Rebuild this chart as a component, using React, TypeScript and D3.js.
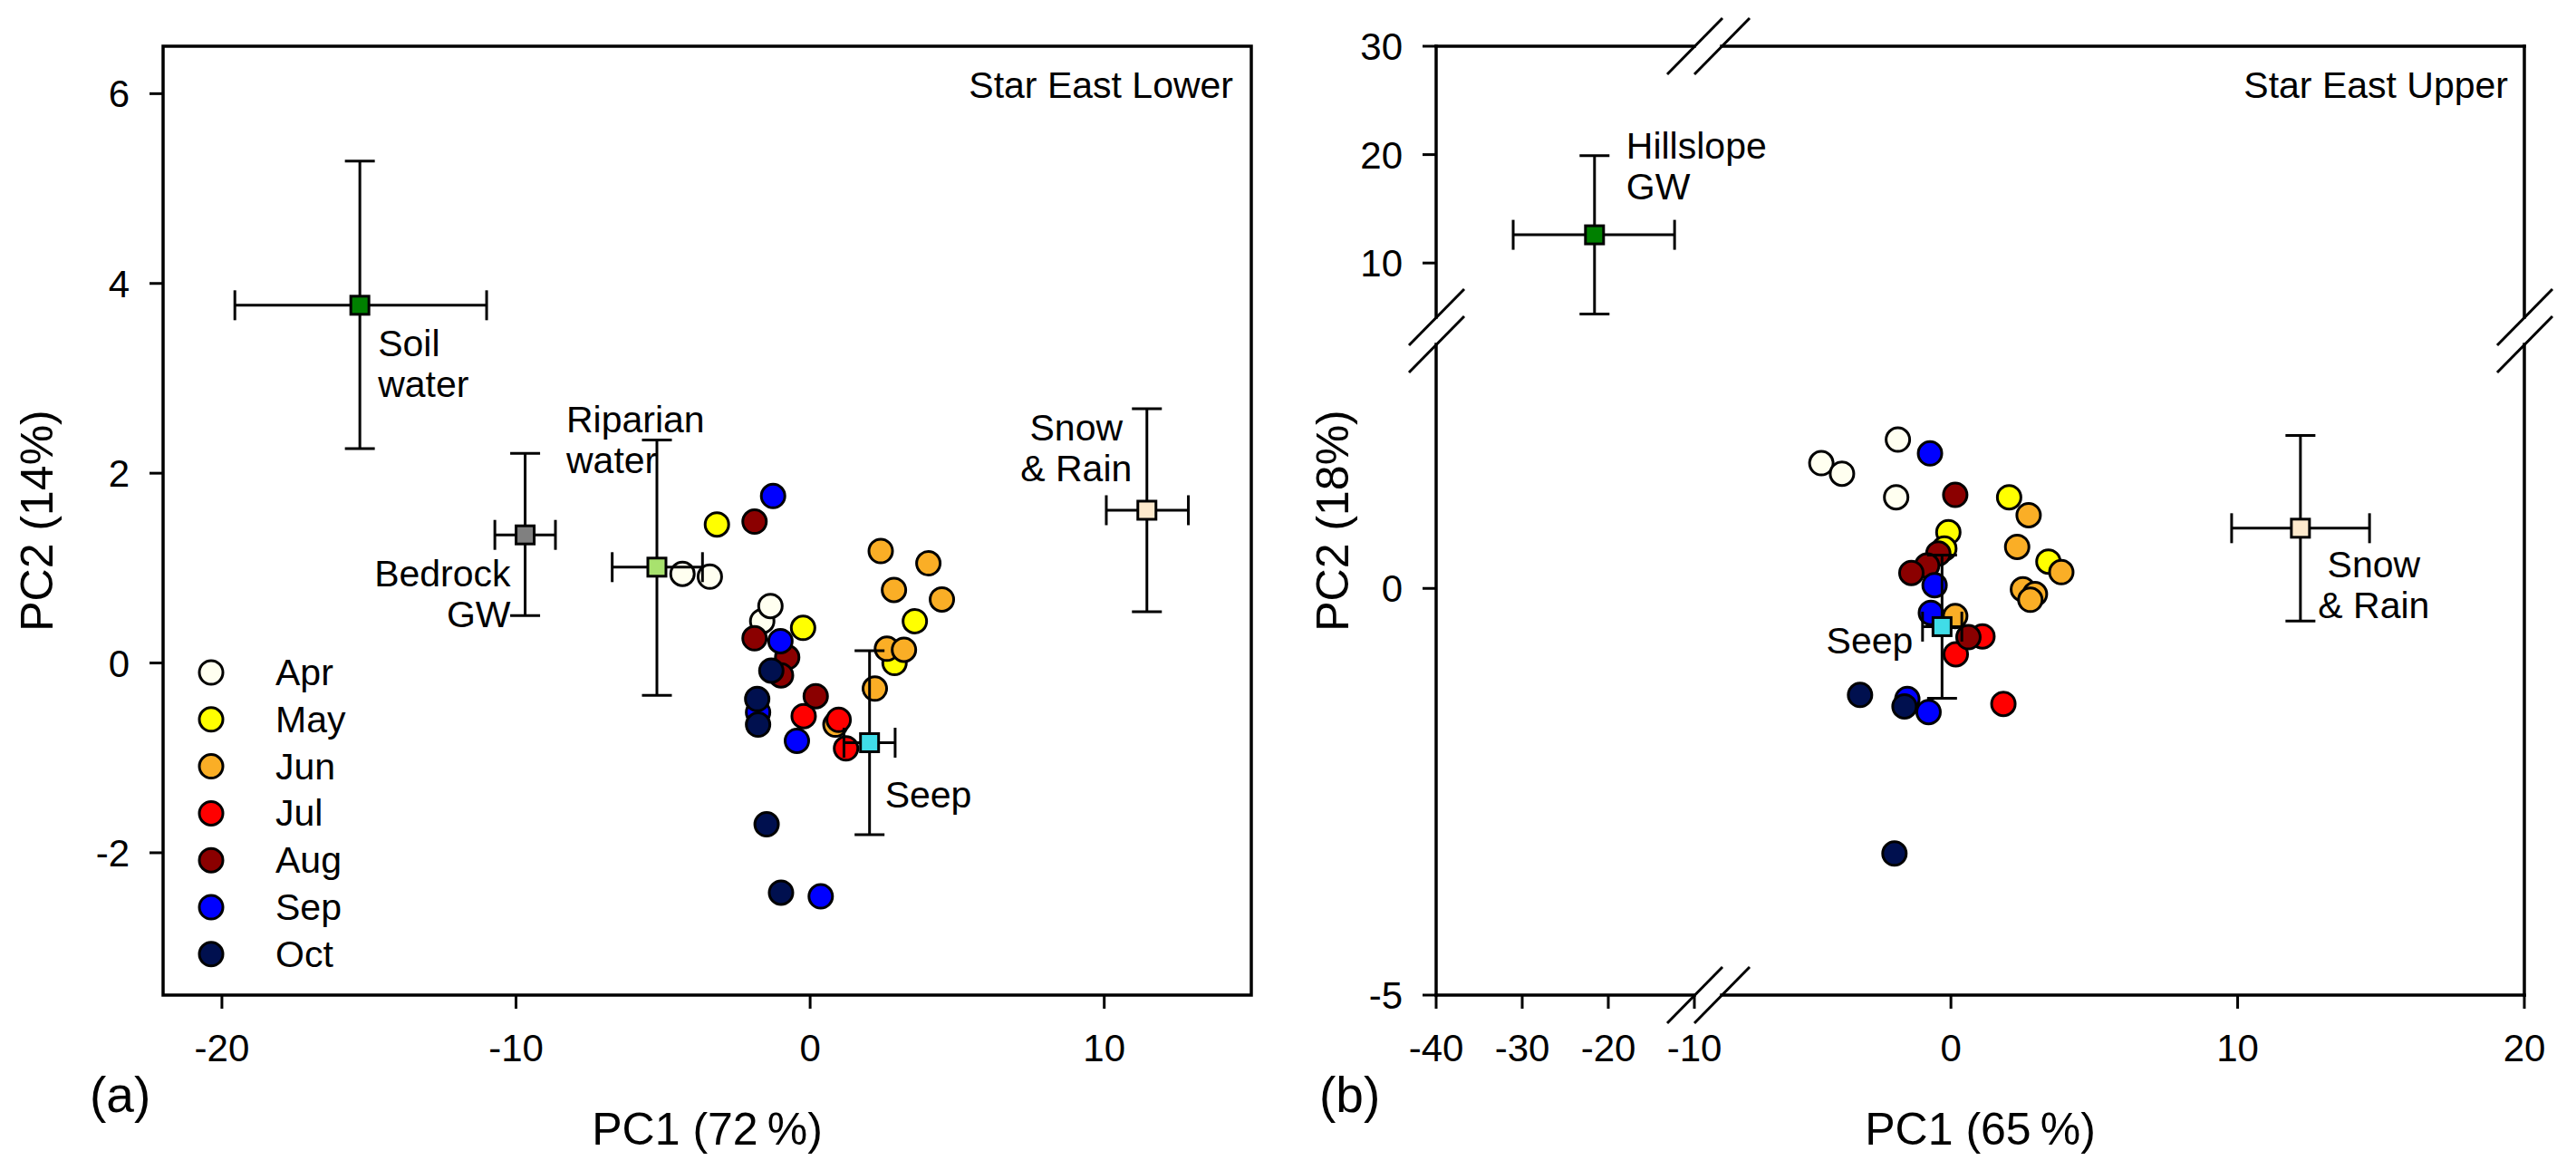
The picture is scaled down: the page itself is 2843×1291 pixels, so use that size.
import React from "react";
import * as d3 from "d3";

// ---------- shared categories ----------
const months = ["Apr", "May", "Jun", "Jul", "Aug", "Sep", "Oct"];
const monthFills = ["#FFFFF0", "#FFFF00", "#FAAE26", "#FF0000", "#8B0000", "#0000FF", "#00104F"];

// ---------- Panel (a) Star East Lower : [PC1, PC2] ----------
const lowerApr = [[-4.34, 0.94], [-3.41, 0.91], [-1.63, 0.44], [-1.35, 0.6]];
const lowerMay = [[-3.17, 1.46], [-0.24, 0.37], [3.56, 0.44], [2.87, 0.0]];
const lowerJun = [[2.4, 1.18], [4.02, 1.05], [2.85, 0.77], [4.48, 0.67], [2.61, 0.15], [3.19, 0.14], [2.2, -0.27], [0.86, -0.65]];
const lowerJul = [[-0.22, -0.56], [0.97, -0.6], [1.22, -0.9]];
const lowerAug = [[-1.89, 1.49], [-1.89, 0.26], [-0.78, 0.06], [-0.99, -0.13], [0.19, -0.35]];
const lowerSep = [[-1.26, 1.76], [-1.01, 0.23], [-1.77, -0.52], [-0.45, -0.82], [0.36, -2.46]];
const lowerOct = [[-1.32, -0.08], [-1.8, -0.38], [-1.77, -0.65], [-1.48, -1.7], [-0.99, -2.42]];
const lowerMonthData = [lowerApr, lowerMay, lowerJun, lowerJul, lowerAug, lowerSep, lowerOct];

const lowerSources = ["Soil water", "Bedrock GW", "Riparian water", "Snow & Rain", "Seep"];
const lowerSrcPC1 = [-15.31, -9.69, -5.21, 11.45, 2.02];
const lowerSrcPC1Lo = [-19.56, -10.72, -6.73, 10.07, 1.15];
const lowerSrcPC1Hi = [-11.0, -8.66, -3.66, 12.86, 2.89];
const lowerSrcPC2 = [3.77, 1.35, 1.01, 1.61, -0.84];
const lowerSrcPC2Lo = [2.26, 0.5, -0.34, 0.54, -1.81];
const lowerSrcPC2Hi = [5.29, 2.21, 2.35, 2.68, 0.13];
const lowerSrcFills = ["#008000", "#808080", "#A8E26E", "#FDE9CC", "#40DDE8"];
const lowerXTicks = [-20, -10, 0, 10];
const lowerYTicks = [-2, 0, 2, 4, 6];

// ---------- Panel (b) Star East Upper : [PC1, PC2] ----------
const upperApr = [[-4.52, 1.54], [-3.8, 1.41], [-1.85, 1.83], [-1.91, 1.12]];
const upperMay = [[2.03, 1.12], [-0.09, 0.69], [-0.23, 0.49], [3.4, 0.33]];
const upperJun = [[2.71, 0.9], [2.31, 0.51], [3.85, 0.2], [2.51, -0.01], [2.93, -0.07], [2.77, -0.14], [0.15, -0.34]];
const upperJul = [[1.1, -0.59], [0.17, -0.81], [1.83, -1.42]];
const upperAug = [[0.15, 1.15], [-0.44, 0.43], [-0.83, 0.28], [-1.38, 0.19], [0.61, -0.6]];
const upperSep = [[-0.73, 1.66], [-0.57, 0.04], [-0.7, -0.3], [-1.52, -1.36], [-0.78, -1.52]];
const upperOct = [[-3.17, -1.31], [-1.62, -1.45], [-1.97, -3.26]];
const upperMonthData = [upperApr, upperMay, upperJun, upperJul, upperAug, upperSep, upperOct];

const upperSources = ["Hillslope GW", "Snow & Rain", "Seep"];
const upperSrcPC1 = [-21.6, 12.19, -0.31];
const upperSrcPC1Lo = [-31.05, 9.79, -0.99];
const upperSrcPC1Hi = [-12.3, 14.6, 0.38];
const upperSrcPC2 = [12.6, 0.74, -0.47];
const upperSrcPC2Lo = [5.3, -0.4, -1.35];
const upperSrcPC2Hi = [19.9, 1.88, 0.41];
const upperSrcFills = ["#008000", "#FDE9CC", "#40DDE8"];
const upperXTicks = [-40, -30, -20, -10, 0, 10, 20];
const upperYTicks = [-5, 0, 10, 20, 30];

const FONT = "'Liberation Sans', Arial, Helvetica, sans-serif";
const LW = 3;
const R = 13;
const SQ = 20;
const CAP = 16.5;

type Sc = (v: number) => number;

function Dot({ x, y, fill }: { x: number; y: number; fill: string }) {
  return <circle cx={x} cy={y} r={R} fill={fill} stroke="#000" strokeWidth={LW} />;
}

function Source({ sx, sy, c, xl, xh, yc, yl, yh, fill }: { sx: Sc; sy: Sc; c: number; xl: number; xh: number; yc: number; yl: number; yh: number; fill: string }) {
  const cx = sx(c), cy = sy(yc);
  const x0 = sx(xl), x1 = sx(xh), y0 = sy(yl), y1 = sy(yh);
  return (
    <g stroke="#000" strokeWidth={LW}>
      <line x1={x0} x2={x1} y1={cy} y2={cy} />
      <line x1={x0} x2={x0} y1={cy - CAP} y2={cy + CAP} />
      <line x1={x1} x2={x1} y1={cy - CAP} y2={cy + CAP} />
      <line x1={cx} x2={cx} y1={y0} y2={y1} />
      <line x1={cx - CAP} x2={cx + CAP} y1={y0} y2={y0} />
      <line x1={cx - CAP} x2={cx + CAP} y1={y1} y2={y1} />
      <rect x={cx - SQ / 2} y={cy - SQ / 2} width={SQ} height={SQ} fill={fill} />
    </g>
  );
}

function Label({ x, y, lines, anchor = "start" }: { x: number; y: number; lines: string[]; anchor?: string }) {
  return (
    <text x={x} y={y} fontSize={41} textAnchor={anchor} fill="#000">
      {lines.map((l, i) => (
        <tspan key={i} x={x} dy={i === 0 ? 0 : 45}>
          {l}
        </tspan>
      ))}
    </text>
  );
}

export default function App() {
  // ---------------- Panel (a) ----------------
  const aL = 180, aR = 1381, aT = 51, aB = 1098;
  const ax = d3.scaleLinear().domain([-22, 15]).range([aL, aR]);
  const ay = d3.scaleLinear().domain([-3.5, 6.5]).range([aB, aT]);

  // ---------------- Panel (b) broken axes ----------------
  const bL = 1585, bR = 2786, bT = 51, bB = 1098;
  const bxLeft = d3.scaleLinear().domain([-40, -10]).range([bL, 1870]);
  const bxRight = d3.scaleLinear().domain([-8, 20]).range([1900, bR]);
  const bx: Sc = (v) => (v <= -9 ? bxLeft(v) : bxRight(v));
  const byTop = d3.scaleLinear().domain([5, 30]).range([350, bT]);
  const byBot = d3.scaleLinear().domain([-5, 3]).range([bB, 380]);
  const by: Sc = (v) => (v >= 4 ? byTop(v) : byBot(v));

  const tickLen = 15;
  const xLabelBase = 1171;

  const breakMark = (cx: number, cy: number, k: string) => (
    <line key={k} x1={cx - 30} y1={cy + 31} x2={cx + 31} y2={cy - 31} stroke="#000" strokeWidth={LW} />
  );

  // label helpers from source positions
  const la = (i: number) => [ax(lowerSrcPC1[i]), ay(lowerSrcPC2[i])];
  const lb = (i: number) => [bx(upperSrcPC1[i]), by(upperSrcPC2[i])];
  const [soilX, soilY] = la(0);
  const [bedX, bedY] = la(1);
  const [ripX, ripY] = la(2);
  const [snowX, snowY] = la(3);
  const [seepX, seepY] = la(4);
  const [hilX, hilY] = lb(0);
  const [snowBX, snowBY] = lb(1);
  const [seepBX, seepBY] = lb(2);

  return (
    <div>
      <style>{`body{margin:0;background:#fff}`}</style>
      <svg width={2843} height={1291} viewBox="0 0 2843 1291" style={{ display: "block", fontFamily: FONT }}>
        <rect width={2843} height={1291} fill="#fff" />

        {/* ================= Panel (a) ================= */}
        <g>
          {lowerMonthData.map((pts, mi) =>
            pts.map((p, j) => <Dot key={`a${mi}-${j}`} x={ax(p[0])} y={ay(p[1])} fill={monthFills[mi]} />)
          )}
          {lowerSources.map((s, i) => (
            <Source key={s} sx={ax} sy={ay} c={lowerSrcPC1[i]} xl={lowerSrcPC1Lo[i]} xh={lowerSrcPC1Hi[i]} yc={lowerSrcPC2[i]} yl={lowerSrcPC2Lo[i]} yh={lowerSrcPC2Hi[i]} fill={lowerSrcFills[i]} />
          ))}
          <Label x={soilX + 20} y={soilY + 56} lines={["Soil", "water"]} />
          <Label x={ripX - 100} y={ripY - 149} lines={["Riparian", "water"]} />
          <Label x={bedX - 16} y={bedY + 57} lines={["Bedrock", "GW"]} anchor="end" />
          <Label x={snowX - 78} y={snowY - 77} lines={["Snow", "& Rain"]} anchor="middle" />
          <Label x={seepX + 17} y={seepY + 72} lines={["Seep"]} />

          {/* legend */}
          {months.map((m, i) => (
            <g key={m}>
              <Dot x={233} y={742 + i * 51.8} fill={monthFills[i]} />
              <text x={304} y={742 + i * 51.8 + 14} fontSize={41}>{m}</text>
            </g>
          ))}

          <text x={aR - 20} y={108} fontSize={41} textAnchor="end">Star East Lower</text>

          {/* frame */}
          <rect x={aL} y={aT} width={aR - aL} height={aB - aT} fill="none" stroke="#000" strokeWidth={3.5} />
          {lowerXTicks.map((t) => (
            <g key={`ax${t}`}>
              <line x1={ax(t)} x2={ax(t)} y1={aB} y2={aB + tickLen} stroke="#000" strokeWidth={LW} />
              <text x={ax(t)} y={xLabelBase} fontSize={42} textAnchor="middle">{String(t)}</text>
            </g>
          ))}
          {lowerYTicks.map((t) => (
            <g key={`ay${t}`}>
              <line x1={aL - tickLen} x2={aL} y1={ay(t)} y2={ay(t)} stroke="#000" strokeWidth={LW} />
              <text x={aL - tickLen - 22} y={ay(t) + 15} fontSize={42} textAnchor="end">{String(t)}</text>
            </g>
          ))}
          <text x={(aL + aR) / 2} y={1263} fontSize={50} textAnchor="middle">PC1 (72{"\u2009"}%)</text>
          <text transform={`translate(58,${(aT + aB) / 2}) rotate(-90)`} fontSize={50} textAnchor="middle">PC2 (14%)</text>
          <text x={99} y={1227} fontSize={55}>(a)</text>
        </g>

        {/* ================= Panel (b) ================= */}
        <g>
          {upperMonthData.map((pts, mi) =>
            pts.map((p, j) => <Dot key={`b${mi}-${j}`} x={bx(p[0])} y={by(p[1])} fill={monthFills[mi]} />)
          )}
          {upperSources.map((s, i) => (
            <Source key={s} sx={bx} sy={by} c={upperSrcPC1[i]} xl={upperSrcPC1Lo[i]} xh={upperSrcPC1Hi[i]} yc={upperSrcPC2[i]} yl={upperSrcPC2Lo[i]} yh={upperSrcPC2Hi[i]} fill={upperSrcFills[i]} />
          ))}
          <Label x={hilX + 35} y={hilY - 84} lines={["Hillslope", "GW"]} />
          <Label x={snowBX + 81} y={snowBY + 54} lines={["Snow", "& Rain"]} anchor="middle" />
          <Label x={seepBX - 32} y={seepBY + 30} lines={["Seep"]} anchor="end" />

          <text x={bR - 18} y={108} fontSize={41} textAnchor="end">Star East Upper</text>

          {/* broken frame */}
          <g stroke="#000" strokeWidth={3.5} strokeLinecap="square">
            <line x1={bL} x2={1870} y1={bT} y2={bT} />
            <line x1={1900} x2={bR} y1={bT} y2={bT} />
            <line x1={bL} x2={1870} y1={bB} y2={bB} />
            <line x1={1900} x2={bR} y1={bB} y2={bB} />
            <line x1={bL} x2={bL} y1={bT} y2={350} />
            <line x1={bL} x2={bL} y1={380} y2={bB} />
            <line x1={bR} x2={bR} y1={bT} y2={350} />
            <line x1={bR} x2={bR} y1={380} y2={bB} />
          </g>
          {breakMark(1870, bT, "t1")}
          {breakMark(1900, bT, "t2")}
          {breakMark(1870, bB, "b1")}
          {breakMark(1900, bB, "b2")}
          {breakMark(bL, 350, "l1")}
          {breakMark(bL, 380, "l2")}
          {breakMark(bR, 350, "r1")}
          {breakMark(bR, 380, "r2")}

          {upperXTicks.map((t) => (
            <g key={`bx${t}`}>
              <line x1={bx(t)} x2={bx(t)} y1={bB} y2={bB + tickLen} stroke="#000" strokeWidth={LW} />
              <text x={bx(t)} y={xLabelBase} fontSize={42} textAnchor="middle">{String(t)}</text>
            </g>
          ))}
          {upperYTicks.map((t) => (
            <g key={`by${t}`}>
              <line x1={bL - tickLen} x2={bL} y1={by(t)} y2={by(t)} stroke="#000" strokeWidth={LW} />
              <text x={bL - tickLen - 22} y={by(t) + 15} fontSize={42} textAnchor="end">{String(t)}</text>
            </g>
          ))}
          <text x={(bL + bR) / 2} y={1263} fontSize={50} textAnchor="middle">PC1 (65{"\u2009"}%)</text>
          <text transform={`translate(1488,${(bT + bB) / 2}) rotate(-90)`} fontSize={50} textAnchor="middle">PC2 (18%)</text>
          <text x={1456} y={1227} fontSize={55}>(b)</text>
        </g>
      </svg>
    </div>
  );
}
